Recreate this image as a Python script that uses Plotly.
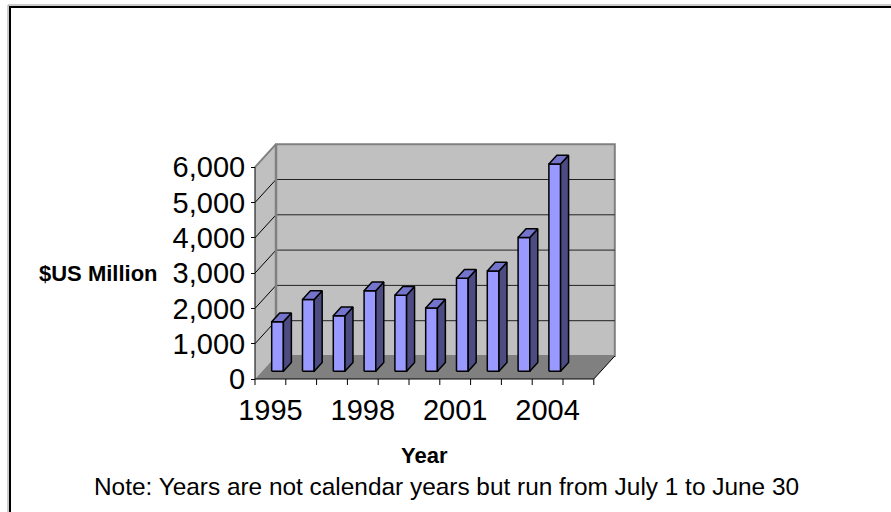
import plotly.graph_objects as go

# ---- data ----
years = [1995, 1996, 1997, 1998, 1999, 2000, 2001, 2002, 2003, 2004, 2005]
values = [1400, 2030, 1570, 2280, 2150, 1790, 2630, 2840, 3790, 5870, None]
label_years = [1995, 1998, 2001, 2004]
y_ticks = [0, 1000, 2000, 3000, 4000, 5000, 6000]
y_tick_text = [f"{v:,}" for v in y_ticks]

# ---- projection (oblique 3D look) ----
W, H = 891, 512
PX_PER_CAT = 30.8
PX_PER_UNIT = 0.0353
ORIGIN = (255, 379)          # pixel of front-left floor corner
DEPTH_PX = (21, 23)          # pixel offset of full depth (right, up)
DX = DEPTH_PX[0] / PX_PER_CAT
DY = DEPTH_PX[1] / PX_PER_UNIT
NCAT = len(years)
VMAX = y_ticks[-1]
TICK_V = 6 / PX_PER_UNIT     # category tick length in value units

xmin = -ORIGIN[0] / PX_PER_CAT
xmax = (W - ORIGIN[0]) / PX_PER_CAT
ymin = -(H - ORIGIN[1]) / PX_PER_UNIT
ymax = ORIGIN[1] / PX_PER_UNIT


def P(u, v, d):
    return u + d * DX, v + d * DY


def poly(pts, fill, line_color=None, width=0):
    xs, ys = zip(*[P(*p) for p in pts])
    xs = list(xs) + [xs[0]]
    ys = list(ys) + [ys[0]]
    return go.Scatter(x=xs, y=ys, mode="lines", fill="toself", fillcolor=fill,
                      line=dict(color=line_color or fill, width=width),
                      hoverinfo="skip", showlegend=False)


def seg(a, b, color, width):
    (x0, y0), (x1, y1) = P(*a), P(*b)
    return go.Scatter(x=[x0, x1], y=[y0, y1], mode="lines",
                      line=dict(color=color, width=width),
                      hoverinfo="skip", showlegend=False)


fig = go.Figure()

WALL = "#C0C0C0"
FLOOR = "#808080"
EDGE = "#808080"

# side wall
fig.add_trace(poly([(0, 0, 0), (0, VMAX, 0), (0, VMAX, 1), (0, 0, 1)], WALL))
# back wall
fig.add_trace(poly([(0, 0, 1), (NCAT, 0, 1), (NCAT, VMAX, 1), (0, VMAX, 1)], WALL, EDGE, 2))
# floor
fig.add_trace(poly([(0, 0, 0), (NCAT, 0, 0), (NCAT, 0, 1), (0, 0, 1)], FLOOR))

# gridlines
for v in y_ticks[1:-1]:
    fig.add_trace(seg((0, v, 1), (NCAT, v, 1), "#222222", 1))
    fig.add_trace(seg((0, v, 0), (0, v, 1), "#000000", 1))
fig.add_trace(seg((0, VMAX, 0), (0, VMAX, 1), EDGE, 2))
fig.add_trace(seg((0, 0, 1), (0, VMAX, 1), EDGE, 2.5))

# axes edges
fig.add_trace(seg((0, 0, 0), (0, VMAX, 0), "#000000", 1))
fig.add_trace(seg((0, 0, 0), (NCAT, 0, 0), "#000000", 1))
fig.add_trace(seg((NCAT, 0, 0), (NCAT, 0, 1), "#000000", 1))
# category boundary ticks
for k in range(NCAT + 1):
    fig.add_trace(seg((k, 0, 0), (k, -TICK_V, 0), "#000000", 1))

# bars
FRONT, SIDE, TOP = "#9999FF", "#4C4C82", "#7474CC"
BW0, BW1 = 0.31, 0.69
D0, D1 = 0.34, 0.72
for i, v in enumerate(values):
    if v is None:
        continue
    u0, u1 = i + BW0, i + BW1
    fig.add_trace(poly([(u0, 0, D0), (u1, 0, D0), (u1, v, D0), (u0, v, D0)], FRONT, "#000000", 1.5))
    fig.add_trace(poly([(u1, 0, D0), (u1, 0, D1), (u1, v, D1), (u1, v, D0)], SIDE, "#000000", 1.5))
    fig.add_trace(poly([(u0, v, D0), (u1, v, D0), (u1, v, D1), (u0, v, D1)], TOP, "#000000", 1.5))

FONT = "Liberation Sans, Arial, sans-serif"

fig.update_layout(
    width=W, height=H, autosize=False,
    margin=dict(l=0, r=0, t=0, b=0),
    paper_bgcolor="white", plot_bgcolor="white",
    showlegend=False,
    font=dict(family=FONT, color="black"),
    xaxis=dict(
        range=[xmin, xmax], domain=[0, 1], anchor="free",
        position=(H - ORIGIN[1] - 11) / H,
        showgrid=False, zeroline=False, showline=False,
        tickmode="array",
        tickvals=[years.index(y) + 0.5 for y in label_years],
        ticktext=[str(y) for y in label_years],
        ticks="",
        tickfont=dict(size=29, family=FONT, color="black"),
        fixedrange=True,
    ),
    yaxis=dict(
        range=[ymin, ymax], domain=[0, 1], anchor="free",
        position=ORIGIN[0] / W,
        showgrid=False, zeroline=False, showline=False,
        tickmode="array", tickvals=y_ticks, ticktext=y_tick_text,
        ticks="outside", ticklen=4, tickcolor="black", tickwidth=1,
        tickfont=dict(size=29, family=FONT, color="black"),
        fixedrange=True,
    ),
    annotations=[
        dict(text="<b>$US Million</b>", x=98 / W, y=1 - 273 / H, xref="paper", yref="paper",
             showarrow=False, font=dict(size=22, family=FONT, color="black"),
             xanchor="center", yanchor="middle"),
        dict(text="<b>Year</b>", x=424 / W, y=1 - 455 / H, xref="paper", yref="paper",
             showarrow=False, font=dict(size=22, family=FONT, color="black"),
             xanchor="center", yanchor="middle"),
        dict(text="Note: Years are not calendar years but run from July 1 to June 30",
             x=446 / W, y=1 - 486 / H, xref="paper", yref="paper",
             showarrow=False, font=dict(size=24.4, family=FONT, color="black"),
             xanchor="center", yanchor="middle"),
    ],
    shapes=[
        dict(type="rect", xref="paper", yref="paper",
             x0=8 / W, x1=1.05, y0=-0.05, y1=1 - 5 / H,
             line=dict(color="#9a9a9a", width=1)),
        dict(type="rect", xref="paper", yref="paper",
             x0=10 / W, x1=1.05, y0=-0.05, y1=1 - 7 / H,
             line=dict(color="black", width=2)),
    ],
)

fig.write_html("out.html", config={"displayModeBar": False, "staticPlot": True})
